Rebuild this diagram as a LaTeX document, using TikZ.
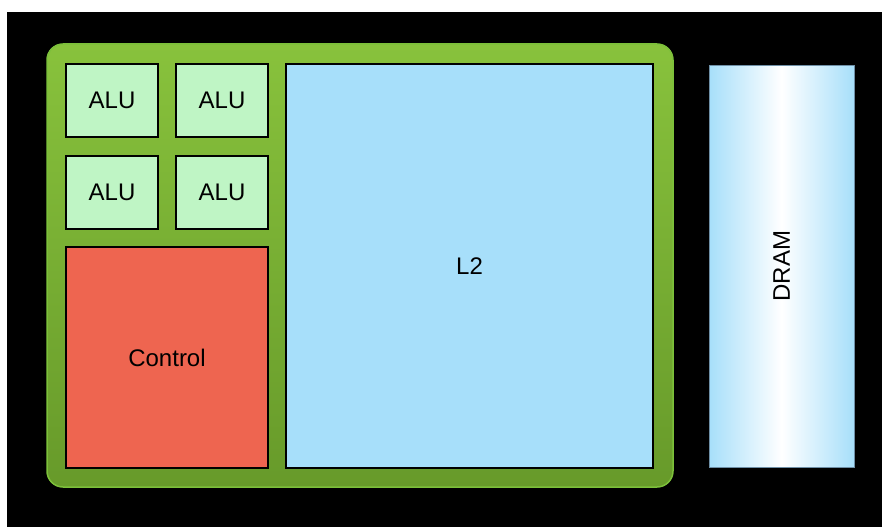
\documentclass[tikz,border=0pt]{standalone}
\usepackage{fontspec}
\setmainfont{Liberation Sans}
\definecolor{gpugreentop}{HTML}{88C23C}
\definecolor{gpugreenbot}{HTML}{679A2A}
\definecolor{gpuedge}{HTML}{7CC03A}
\definecolor{alufill}{HTML}{BFF5C5}
\definecolor{ctrlfill}{HTML}{EE6550}
\definecolor{cachefill}{HTML}{A7DFFA}
\definecolor{dramedge}{HTML}{6E8FA6}
\tikzset{
  unit/.style={draw=black, line width=1.6pt, inner sep=0pt, outer sep=0pt,
    font=\fontsize{24}{28}\selectfont, text=black},
  alubox/.style={unit, fill=alufill, minimum width=92pt, minimum height=73pt},
}
\begin{document}
\begin{tikzpicture}[x=1pt, y=-1pt]
  % page and dark backdrop
  \fill[white] (0,0) rectangle (882,527);
  \useasboundingbox (0,0) rectangle (882,527);
  \fill[black] (7,12) rectangle (882,527);

  % processor die
  \node[draw=gpuedge, line width=1.5pt, rounded corners=16pt,
        top color=gpugreentop, bottom color=gpugreenbot,
        minimum width=626pt, minimum height=443pt, inner sep=0pt, outer sep=0pt]
        (gpu) at (360,265.5) {};

  % arithmetic units
  \node[alubox] (alu1) at (112,100.5) {ALU};
  \node[alubox] (alu2) at (222,100.5) {ALU};
  \node[alubox] (alu3) at (112,192.5) {ALU};
  \node[alubox] (alu4) at (222,192.5) {ALU};

  % control logic
  \node[unit, fill=ctrlfill, minimum width=202pt, minimum height=221pt]
        (ctrl) at (167,357.5) {Control};

  % cache
  \node[unit, fill=cachefill, minimum width=367pt, minimum height=404pt]
        (l2) at (469.5,266) {L2};

  % main memory
  \node[draw=dramedge, line width=0.8pt, inner sep=0pt, outer sep=0pt,
        left color=cachefill, right color=cachefill, middle color=white,
        minimum width=145pt, minimum height=402pt] (dram) at (781.5,266) {};
  \node[rotate=90, font=\fontsize{24}{28}\selectfont, text=black]
        (dramlabel) at (dram.center) {DRAM};
\end{tikzpicture}
\end{document}
